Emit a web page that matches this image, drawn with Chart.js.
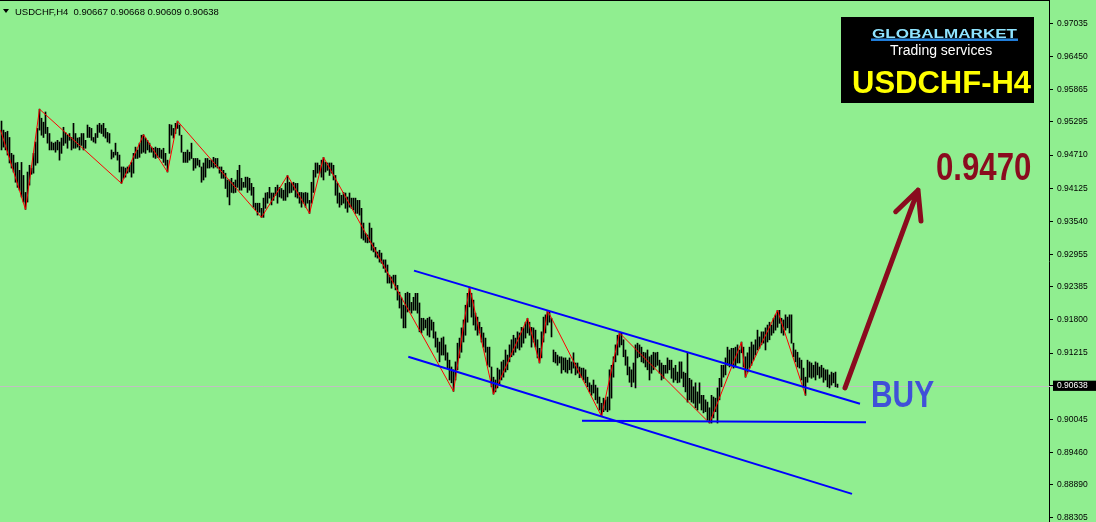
<!DOCTYPE html>
<html>
<head>
<meta charset="utf-8">
<script src="https://cdn.jsdelivr.net/npm/chart.js@4/dist/chart.umd.min.js"></script>
<style>
  html, body { margin: 0; padding: 0; background: #90ee90; }
</style>
</head>
<body>
<canvas id="usdchfChart" width="1096" height="522"></canvas>
<script>
    // USDCHF H4 - bars (high / low), one per 4h candle
    var symbol = 'USDCHF,H4';
    var lastOpen = 0.90667;
    var lastPrice = 0.90638;
    var priceTicks = [0.97035, 0.96450, 0.95865, 0.95295, 0.94710, 0.94125, 0.93540, 0.92955,
                      0.92385, 0.91800, 0.91215, 0.90638, 0.90045, 0.89460, 0.88890, 0.88305];

    var highs = [
        0.9531, 0.9515, 0.9511, 0.9513, 0.9502, 0.9474, 0.9471, 0.9457, 0.9458, 0.9444,
        0.9458, 0.9435, 0.9405, 0.9441, 0.9453, 0.9448, 0.9474, 0.9494, 0.9518, 0.9552,
        0.9536, 0.9529, 0.9547, 0.9520, 0.9509, 0.9494, 0.9492, 0.9494, 0.9497, 0.9494,
        0.9501, 0.9520, 0.9511, 0.9506, 0.9509, 0.9502, 0.9527, 0.9509, 0.9501, 0.9502,
        0.9509, 0.9509, 0.9497, 0.9524, 0.9520, 0.9518, 0.9502, 0.9509, 0.9524, 0.9527,
        0.9524, 0.9527, 0.9518, 0.9511, 0.9509, 0.9480, 0.9476, 0.9492, 0.9476, 0.9471,
        0.9450, 0.9450, 0.9448, 0.9450, 0.9453, 0.9458, 0.9474, 0.9485, 0.9480, 0.9492,
        0.9506, 0.9507, 0.9501, 0.9497, 0.9492, 0.9485, 0.9483, 0.9485, 0.9483, 0.9483,
        0.9480, 0.9483, 0.9474, 0.9462, 0.9525, 0.9524, 0.9518, 0.9527, 0.9531, 0.9524,
        0.9506, 0.9476, 0.9476, 0.9480, 0.9476, 0.9492, 0.9465, 0.9465, 0.9465, 0.9462,
        0.9450, 0.9457, 0.9465, 0.9465, 0.9462, 0.9462, 0.9467, 0.9465, 0.9465, 0.9450,
        0.9450, 0.9444, 0.9439, 0.9427, 0.9427, 0.9430, 0.9423, 0.9427, 0.9444, 0.9453,
        0.9430, 0.9423, 0.9432, 0.9432, 0.9430, 0.9421, 0.9414, 0.9386, 0.9386, 0.9386,
        0.9377, 0.9395, 0.9404, 0.9405, 0.9414, 0.9404, 0.9404, 0.9414, 0.9418, 0.9414,
        0.9412, 0.9409, 0.9421, 0.9435, 0.9423, 0.9421, 0.9423, 0.9421, 0.9421, 0.9405,
        0.9405, 0.9404, 0.9405, 0.9404, 0.9391, 0.9423, 0.9444, 0.9457, 0.9457, 0.9453,
        0.9462, 0.9467, 0.9458, 0.9457, 0.9457, 0.9457, 0.9453, 0.9435, 0.9421, 0.9404,
        0.9400, 0.9405, 0.9404, 0.9397, 0.9404, 0.9395, 0.9395, 0.9395, 0.9391, 0.9391,
        0.9377, 0.9351, 0.9333, 0.9330, 0.9351, 0.9342, 0.9316, 0.9308, 0.9300, 0.9303,
        0.9298, 0.9286, 0.9286, 0.9277, 0.9259, 0.9256, 0.9259, 0.9259, 0.9241, 0.9229,
        0.9219, 0.9206, 0.9227, 0.9229, 0.9227, 0.9211, 0.9220, 0.9227, 0.9227, 0.9210,
        0.9183, 0.9183, 0.9180, 0.9183, 0.9185, 0.9180, 0.9176, 0.9159, 0.9148, 0.9141,
        0.9148, 0.9150, 0.9136, 0.9122, 0.9109, 0.9097, 0.9092, 0.9106, 0.9139, 0.9148,
        0.9166, 0.9180, 0.9206, 0.9227, 0.9238, 0.9227, 0.9215, 0.9192, 0.9185, 0.9176,
        0.9167, 0.9157, 0.9148, 0.9132, 0.9132, 0.9097, 0.9079, 0.9074, 0.9095, 0.9092,
        0.9106, 0.9109, 0.9127, 0.9118, 0.9136, 0.9145, 0.9153, 0.9148, 0.9159, 0.9157,
        0.9167, 0.9166, 0.9176, 0.9183, 0.9176, 0.9167, 0.9166, 0.9162, 0.9145, 0.9130,
        0.9159, 0.9185, 0.9189, 0.9197, 0.9194, 0.9183, 0.9127, 0.9123, 0.9118, 0.9115,
        0.9115, 0.9113, 0.9113, 0.9109, 0.9113, 0.9106, 0.9122, 0.9104, 0.9104, 0.9097,
        0.9095, 0.9095, 0.9092, 0.9079, 0.9069, 0.9065, 0.9074, 0.9065, 0.9060, 0.9044,
        0.9033, 0.9042, 0.9039, 0.9044, 0.9092, 0.9100, 0.9115, 0.9136, 0.9153, 0.9157,
        0.9157, 0.9145, 0.9127, 0.9115, 0.9097, 0.9092, 0.9104, 0.9136, 0.9139, 0.9136,
        0.9132, 0.9123, 0.9122, 0.9127, 0.9115, 0.9118, 0.9123, 0.9122, 0.9123, 0.9109,
        0.9104, 0.9100, 0.9100, 0.9113, 0.9109, 0.9109, 0.9095, 0.9100, 0.9088, 0.9106,
        0.9106, 0.9088, 0.9086, 0.9122, 0.9077, 0.9074, 0.9062, 0.9069, 0.9053, 0.9069,
        0.9047, 0.9047, 0.9039, 0.9035, 0.9025, 0.9047, 0.9044, 0.9042, 0.9060, 0.9077,
        0.9100, 0.9100, 0.9113, 0.9132, 0.9127, 0.9130, 0.9130, 0.9132, 0.9136, 0.9127,
        0.9141, 0.9132, 0.9115, 0.9122, 0.9132, 0.9141, 0.9136, 0.9145, 0.9162, 0.9150,
        0.9159, 0.9159, 0.9166, 0.9171, 0.9176, 0.9171, 0.9183, 0.9189, 0.9197, 0.9197,
        0.9183, 0.9180, 0.9189, 0.9185, 0.9189, 0.9189, 0.9139, 0.9127, 0.9123, 0.9113,
        0.9109, 0.9095, 0.9079, 0.9109, 0.9106, 0.9104, 0.9100, 0.9106, 0.9104, 0.9097,
        0.9100, 0.9095, 0.9092, 0.9092, 0.9083, 0.9088, 0.9086, 0.9088, 0.90668
    ];
    var lows = [
        0.9480, 0.9485, 0.9480, 0.9471, 0.9457, 0.9448, 0.9441, 0.9423, 0.9414, 0.9409,
        0.9397, 0.9388, 0.9375, 0.9388, 0.9418, 0.9437, 0.9439, 0.9453, 0.9457, 0.9515,
        0.9506, 0.9502, 0.9509, 0.9492, 0.9480, 0.9480, 0.9480, 0.9476, 0.9480, 0.9462,
        0.9474, 0.9488, 0.9492, 0.9483, 0.9497, 0.9480, 0.9483, 0.9483, 0.9485, 0.9480,
        0.9488, 0.9480, 0.9483, 0.9502, 0.9502, 0.9497, 0.9494, 0.9492, 0.9502, 0.9511,
        0.9509, 0.9504, 0.9501, 0.9494, 0.9492, 0.9464, 0.9467, 0.9471, 0.9462, 0.9441,
        0.9421, 0.9430, 0.9432, 0.9439, 0.9441, 0.9432, 0.9439, 0.9465, 0.9465, 0.9467,
        0.9474, 0.9476, 0.9474, 0.9480, 0.9476, 0.9476, 0.9467, 0.9465, 0.9467, 0.9467,
        0.9465, 0.9458, 0.9453, 0.9441, 0.9474, 0.9506, 0.9501, 0.9509, 0.9518, 0.9506,
        0.9476, 0.9458, 0.9458, 0.9458, 0.9462, 0.9465, 0.9444, 0.9448, 0.9453, 0.9450,
        0.9423, 0.9427, 0.9432, 0.9448, 0.9448, 0.9450, 0.9448, 0.9450, 0.9448, 0.9439,
        0.9430, 0.9430, 0.9412, 0.9397, 0.9383, 0.9405, 0.9404, 0.9405, 0.9414, 0.9409,
        0.9409, 0.9414, 0.9414, 0.9405, 0.9409, 0.9400, 0.9379, 0.9374, 0.9365, 0.9370,
        0.9361, 0.9361, 0.9377, 0.9386, 0.9395, 0.9383, 0.9391, 0.9400, 0.9386, 0.9397,
        0.9395, 0.9391, 0.9391, 0.9397, 0.9404, 0.9405, 0.9409, 0.9397, 0.9395, 0.9386,
        0.9379, 0.9386, 0.9379, 0.9386, 0.9368, 0.9386, 0.9405, 0.9432, 0.9439, 0.9439,
        0.9432, 0.9427, 0.9441, 0.9444, 0.9435, 0.9439, 0.9427, 0.9400, 0.9386, 0.9379,
        0.9383, 0.9386, 0.9377, 0.9370, 0.9379, 0.9377, 0.9374, 0.9368, 0.9368, 0.9365,
        0.9324, 0.9321, 0.9317, 0.9316, 0.9317, 0.9303, 0.9300, 0.9291, 0.9289, 0.9282,
        0.9280, 0.9271, 0.9264, 0.9245, 0.9245, 0.9236, 0.9245, 0.9233, 0.9215, 0.9201,
        0.9183, 0.9166, 0.9166, 0.9194, 0.9197, 0.9192, 0.9197, 0.9197, 0.9192, 0.9159,
        0.9157, 0.9162, 0.9166, 0.9153, 0.9150, 0.9162, 0.9148, 0.9132, 0.9123, 0.9106,
        0.9118, 0.9118, 0.9109, 0.9095, 0.9074, 0.9069, 0.9054, 0.9074, 0.9092, 0.9113,
        0.9123, 0.9141, 0.9153, 0.9176, 0.9203, 0.9185, 0.9171, 0.9162, 0.9153, 0.9157,
        0.9141, 0.9132, 0.9123, 0.9100, 0.9097, 0.9062, 0.9049, 0.9053, 0.9060, 0.9065,
        0.9074, 0.9079, 0.9088, 0.9092, 0.9106, 0.9115, 0.9118, 0.9123, 0.9130, 0.9127,
        0.9132, 0.9139, 0.9148, 0.9157, 0.9153, 0.9132, 0.9141, 0.9132, 0.9113, 0.9104,
        0.9113, 0.9141, 0.9157, 0.9171, 0.9176, 0.9150, 0.9106, 0.9104, 0.9100, 0.9104,
        0.9086, 0.9092, 0.9088, 0.9086, 0.9092, 0.9086, 0.9095, 0.9083, 0.9086, 0.9078,
        0.9079, 0.9074, 0.9069, 0.9062, 0.9053, 0.9047, 0.9051, 0.9039, 0.9033, 0.9021,
        0.9010, 0.9018, 0.9021, 0.9018, 0.9021, 0.9042, 0.9079, 0.9106, 0.9118, 0.9132,
        0.9136, 0.9115, 0.9100, 0.9083, 0.9070, 0.9062, 0.9070, 0.9060, 0.9113, 0.9115,
        0.9106, 0.9104, 0.9097, 0.9092, 0.9074, 0.9086, 0.9092, 0.9097, 0.9100, 0.9086,
        0.9074, 0.9077, 0.9086, 0.9086, 0.9092, 0.9077, 0.9070, 0.9074, 0.9069, 0.9070,
        0.9077, 0.9062, 0.9053, 0.9035, 0.9039, 0.9035, 0.9033, 0.9025, 0.9021, 0.9033,
        0.9021, 0.9016, 0.9018, 0.9003, 0.8998, 0.8998, 0.9007, 0.9018, 0.8998, 0.9039,
        0.9062, 0.9079, 0.9083, 0.9100, 0.9097, 0.9100, 0.9095, 0.9097, 0.9104, 0.9104,
        0.9122, 0.9097, 0.9079, 0.9088, 0.9095, 0.9100, 0.9109, 0.9118, 0.9127, 0.9130,
        0.9136, 0.9139, 0.9127, 0.9141, 0.9145, 0.9153, 0.9157, 0.9162, 0.9167, 0.9174,
        0.9157, 0.9153, 0.9162, 0.9166, 0.9157, 0.9139, 0.9115, 0.9106, 0.9097, 0.9095,
        0.9074, 0.9062, 0.9047, 0.9070, 0.9079, 0.9077, 0.9079, 0.9074, 0.9083, 0.9077,
        0.9079, 0.9070, 0.9074, 0.9062, 0.9060, 0.9065, 0.9069, 0.9062, 0.90609
    ];

    // ZigZag pivots (bar index, price)
    var zigzagBars   = [-0.5, 12, 19, 60, 71, 83, 88, 130, 143, 154, 161, 226, 234, 246, 263, 269, 273, 300, 309, 354, 370, 372, 388, 402];
    var zigzagPrices = [0.9515, 0.9375, 0.9552, 0.9421, 0.9507, 0.9441, 0.9531, 0.9361, 0.9435, 0.9368, 0.9467, 0.9054,
                        0.9238, 0.9049, 0.9183, 0.9104, 0.9197, 0.9010, 0.9157, 0.8998, 0.9141, 0.9079, 0.9197, 0.9047];

    // objetos dibujados: canal bajista, soporte y flecha
    var channelTopBars = [206.25, 429.25], channelTopPrices = [0.9267, 0.9032];
    var channelLowBars = [203.4, 425.25],  channelLowPrices = [0.9115, 0.8873];
    var supportBars    = [290.25, 432.25], supportPrices    = [0.90022, 0.89995];
    var arrowBars      = [421.75, 458.25], arrowPrices      = [0.9060, 0.9409];
    var targetText = '0.9470';

    function toPoints(xs, ys) {
        return xs.map(function (x, i) { return { x: x, y: ys[i] }; });
    }
    var barData = highs.map(function (h, i) { return { x: i, y: [lows[i], h] }; });

    var arrowColor = '#8a0b1e';
    var uiFont = '"Liberation Sans", Arial, sans-serif';

    var mtPlugin = {
        id: 'mtDeco',
        beforeDraw: function (chart) {
            var c = chart.ctx;
            c.save();
            c.fillStyle = '#90ee90';
            c.fillRect(0, 0, chart.width, chart.height);
            c.restore();
        },
        beforeDatasetsDraw: function (chart) {
            var c = chart.ctx, a = chart.chartArea;
            var y = Math.round(chart.scales.y.getPixelForValue(lastPrice)) + 0.5;
            c.save();
            c.strokeStyle = '#c0c0c0';
            c.lineWidth = 1;
            c.beginPath();
            c.moveTo(a.left, y);
            c.lineTo(a.right + 4, y);
            c.stroke();
            c.restore();
        },
        afterDraw: function (chart) {
            var c = chart.ctx, a = chart.chartArea;
            var xs = chart.scales.x, ys = chart.scales.y;
            c.save();
            // top border
            c.fillStyle = '#000';
            c.fillRect(0, 0, a.right + 1, 1);

            // arrow
            var x1 = xs.getPixelForValue(arrowBars[0]), y1 = ys.getPixelForValue(arrowPrices[0]);
            var x2 = xs.getPixelForValue(arrowBars[1]), y2 = ys.getPixelForValue(arrowPrices[1]);
            c.strokeStyle = arrowColor;
            c.lineWidth = 5;
            c.lineCap = 'round';
            c.lineJoin = 'round';
            c.beginPath();
            c.moveTo(x1, y1);
            c.lineTo(x2, y2);
            var ang = Math.atan2(y1 - y2, x1 - x2);
            c.moveTo(x2 + 31 * Math.cos(ang + 0.45), y2 + 31 * Math.sin(ang + 0.45));
            c.lineTo(x2, y2);
            c.lineTo(x2 + 31 * Math.cos(ang - 0.45), y2 + 31 * Math.sin(ang - 0.45));
            c.stroke();

            // target / BUY
            c.textBaseline = 'alphabetic';
            c.textAlign = 'left';
            c.save();
            c.translate(936, 180);
            c.scale(0.82, 1);
            c.fillStyle = arrowColor;
            c.font = 'bold 38px ' + uiFont;
            c.fillText(targetText, 0, 0);
            c.restore();

            c.save();
            c.translate(871, 407);
            c.scale(0.83, 1);
            c.fillStyle = '#4050d8';
            c.font = 'bold 36px ' + uiFont;
            c.fillText('BUY', 0, 0);
            c.restore();

            // logo
            c.fillStyle = '#000';
            c.fillRect(841, 17, 193, 86);
            var g = c.createLinearGradient(0, 27, 0, 41);
            g.addColorStop(0, '#8fe4ff');
            g.addColorStop(1, '#1a78d8');
            c.save();
            c.font = 'bold 13px ' + uiFont;
            var w = c.measureText('GLOBALMARKET').width;
            c.translate(872, 38);
            c.scale(145 / w, 1);
            c.fillStyle = g;
            c.fillText('GLOBALMARKET', 0, 0);
            c.restore();
            c.fillStyle = g;
            c.fillRect(871, 38.5, 147, 2.5);
            c.fillStyle = '#ffffff';
            c.font = '14px ' + uiFont;
            c.fillText('Trading services', 890, 55);
            c.fillStyle = '#ffff00';
            c.font = 'bold 31px ' + uiFont;
            c.fillText('USDCHF-H4', 852, 93);

            // header
            c.fillStyle = '#000';
            c.beginPath();
            c.moveTo(3, 9); c.lineTo(9, 9); c.lineTo(6, 13); c.closePath();
            c.fill();
            var n = highs.length - 1;
            c.font = '9.5px ' + uiFont;
            c.fillText(symbol + '  ' + lastOpen.toFixed(5) + ' ' + highs[n].toFixed(5) + ' ' +
                       lows[n].toFixed(5) + ' ' + lastPrice.toFixed(5), 15, 14.5);
            c.restore();
        }
    };

    var ctx = document.getElementById('usdchfChart').getContext('2d');
    var myChart = new Chart(ctx, {
        type: 'bar',
        data: {
            datasets: [{
                type: 'line',
                data: toPoints(channelTopBars, channelTopPrices),
                borderColor: '#0000ff', borderWidth: 2, pointRadius: 0, order: 1
            }, {
                type: 'line',
                data: toPoints(channelLowBars, channelLowPrices),
                borderColor: '#0000ff', borderWidth: 2, pointRadius: 0, order: 1
            }, {
                type: 'line',
                data: toPoints(supportBars, supportPrices),
                borderColor: '#0000ff', borderWidth: 2, pointRadius: 0, order: 1
            }, {
                type: 'line',
                data: toPoints(zigzagBars, zigzagPrices),
                borderColor: '#ff0000', borderWidth: 1, pointRadius: 0, order: 2
            }, {
                type: 'bar',
                data: barData,
                backgroundColor: '#000000',
                borderWidth: 0,
                barThickness: 1,
                order: 3
            }]
        },
        options: {
            responsive: false,
            devicePixelRatio: 1,
            animation: false,
            events: [],
            layout: { padding: 0 },
            plugins: { legend: { display: false }, tooltip: { enabled: false } },
            scales: {
                x: {
                    type: 'linear', display: false, offset: false,
                    min: -0.75, max: 523.75
                },
                y: {
                    type: 'linear', position: 'right',
                    min: 0.882341, max: 0.974462, beginAtZero: false,
                    afterBuildTicks: function (s) {
                        s.ticks = priceTicks.map(function (v) { return { value: v }; });
                    },
                    afterFit: function (s) {
                        s.width = 47;
                        s.paddingTop = 0;
                        s.paddingBottom = 0;
                    },
                    grid: { drawOnChartArea: false, drawTicks: true, tickLength: 4, color: '#000000', lineWidth: 1 },
                    border: { display: true, color: '#000000', width: 1 },
                    ticks: {
                        autoSkip: false,
                        padding: 4,
                        font: { family: uiFont, size: 8.5 },
                        color: function (c) { return c.tick && c.tick.value === lastPrice ? '#ffffff' : '#000000'; },
                        showLabelBackdrop: function (c) { return !!(c.tick && c.tick.value === lastPrice); },
                        backdropColor: '#000000',
                        backdropPadding: { top: 0, bottom: 0, left: 4, right: 10 },
                        callback: function (v) { return Number(v).toFixed(5); }
                    }
                }
            }
        },
        plugins: [mtPlugin]
    });
</script>
</body>
</html>
